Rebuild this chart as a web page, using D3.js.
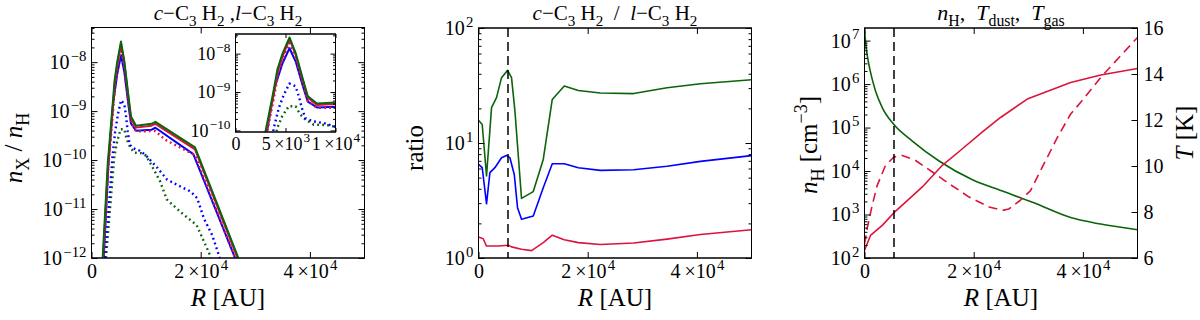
<!DOCTYPE html>
<html><head><meta charset="utf-8">
<script src="https://cdn.jsdelivr.net/npm/d3@7"></script>
<style>
body{margin:0;background:#fff}
svg{display:block}
text{font-family:"Liberation Serif","DejaVu Serif",serif;fill:#000}
</style>
</head><body><svg id="c" width="1200" height="320"></svg>
<script>
// ---------------- DATA ----------------
// Panel 1: fractional abundances n_X/n_H vs R [AU]
const p1GreenSolidR = [1900, 2990, 3790, 4200, 4700, 5400, 6010, 6740, 7230, 8150, 11000, 11700, 18960, 26900, 28000];
const p1GreenSolid  = [5.0e-13, 9.1e-11, 1.02e-9, 3.98e-9, 1.0e-8, 2.63e-8, 1.05e-8, 2.14e-9, 7.76e-10, 5.01e-10, 5.50e-10, 6.03e-10, 1.82e-10, 1.0e-12, 3.16e-13];
const p1RedSolidR   = [1950, 3040, 3840, 4250, 4750, 5400, 6010, 6740, 7230, 8150, 11000, 11700, 18960, 26900, 28000];
const p1RedSolid    = [4.5e-13, 8.0e-11, 9.0e-10, 3.6e-9, 9.0e-9, 2.4e-8, 9.6e-9, 1.95e-9, 7.1e-10, 4.6e-10, 5.05e-10, 5.5e-10, 1.66e-10, 9.0e-13, 2.9e-13];
const p1RedDotR     = [1950, 3040, 3840, 4250, 4750, 5400, 6010, 6740, 7230, 8150, 11000, 11700, 13500, 18960, 26900, 28000];
const p1RedDot      = [3.5e-13, 6.3e-11, 7.1e-10, 2.83e-9, 7.1e-9, 1.88e-8, 7.7e-9, 1.6e-9, 5.9e-10, 3.87e-10, 3.9e-10, 3.93e-10, 2.6e-10, 1.26e-10, 6.7e-13, 2.1e-13];
const p1BlueSolidR  = [2100, 3100, 3900, 4700, 5400, 6010, 6740, 7230, 8150, 11000, 11700, 18650, 26300, 27500];
const p1BlueSolid   = [5.0e-13, 7.9e-11, 1.26e-9, 5.6e-9, 1.38e-8, 6.3e-9, 1.41e-9, 5.6e-10, 3.98e-10, 4.17e-10, 4.57e-10, 1.32e-10, 1.0e-12, 3.16e-13];
const p1BlueDotR    = [2350, 3830, 4330, 4830, 5400, 6000, 6330, 6640, 6970, 7670, 8830, 9830, 12000, 13860, 16300, 18130, 19360, 20570, 22100, 23320, 24200];
const p1BlueDot     = [6.3e-13, 1.15e-10, 3.8e-10, 8.5e-10, 1.66e-9, 1.41e-9, 7.76e-10, 3.8e-10, 2.09e-10, 1.74e-10, 1.55e-10, 1.29e-10, 7.08e-11, 3.98e-11, 2.88e-11, 2.29e-11, 1.66e-11, 6.46e-12, 2.95e-12, 1.15e-12, 5.0e-13];
const p1GreenDotR   = [2500, 4170, 4670, 5330, 6000, 6500, 7000, 7830, 9170, 10000, 10710, 12550, 13770, 16210, 19260, 21700, 22600];
const p1GreenDot    = [6.3e-13, 1.15e-10, 2.34e-10, 4.27e-10, 4.27e-10, 2.57e-10, 1.91e-10, 1.41e-10, 1.38e-10, 1.23e-10, 8.9e-11, 3.72e-11, 1.58e-11, 8.9e-12, 4.68e-12, 1.15e-12, 5.0e-13];

// Panel 2: ratio c-C3H2 / l-C3H2
const p2GreenR = [0, 680, 1470, 2390, 3300, 4220, 5320, 6050, 6670, 7880, 10030, 11860, 13510, 15710, 18280, 22310, 28420, 34540, 40650, 50000];
const p2Green  = [15.8, 14.5, 5.16, 20.3, 24.8, 37.0, 42.8, 37.0, 19.0, 3.30, 3.78, 7.19, 23.9, 31.3, 28.6, 27.2, 26.9, 30.2, 32.8, 35.5];
const p2BlueR  = [0, 680, 1470, 2090, 3000, 4220, 5130, 5750, 6550, 7150, 7880, 10030, 11860, 13510, 15710, 18280, 22310, 28420, 34540, 40650, 50000];
const p2Blue   = [6.52, 6.10, 2.96, 5.52, 6.10, 7.45, 7.80, 7.45, 5.33, 2.74, 2.17, 2.32, 4.08, 6.61, 6.61, 6.10, 5.78, 5.86, 6.27, 6.92, 7.76];
const p2RedR   = [0, 860, 1470, 3610, 5440, 6050, 7880, 9720, 11860, 13510, 15710, 18280, 22310, 28420, 34540, 40650, 50000];
const p2Red    = [1.52, 1.47, 1.27, 1.27, 1.29, 1.25, 1.19, 1.16, 1.36, 1.58, 1.44, 1.36, 1.31, 1.35, 1.46, 1.60, 1.76];

// Panel 3: density and temperatures
const p3nHR = [0, 300, 800, 1400, 2020, 3250, 5390, 8760, 13660, 19770, 25280, 31020, 37760, 43260, 50000];
const p3nH  = [1.78e7, 7.08e6, 2.82e6, 1.32e6, 6.92e5, 2.88e5, 1.17e5, 4.9e4, 1.7e4, 6.3e3, 3.47e3, 1.86e3, 851, 603, 447];
const p3TdustR = [0, 1100, 3250, 5390, 7530, 10590, 14260, 17930, 21600, 24910, 29810, 37760, 43260, 50000];
const p3Tdust  = [6.33, 6.98, 7.42, 7.97, 8.43, 9.09, 10.03, 10.75, 11.48, 12.11, 12.91, 13.63, 13.96, 14.24];
const p3TgasR = [0, 500, 1410, 2330, 3850, 5390, 6920, 9360, 12430, 15490, 19160, 22830, 25280, 26430, 28500, 30410, 32860, 35320, 37760, 39600, 43260, 46930, 50000];
const p3Tgas  = [6.6, 7.3, 8.29, 9.16, 10.03, 10.39, 10.46, 10.24, 9.74, 9.23, 8.65, 8.22, 8.07, 8.13, 8.5, 8.93, 10.09, 11.24, 12.26, 12.77, 13.85, 14.8, 15.59];

const markerR = 5400; // vertical dashed line

// Ticks
const xTickVals = [0, 2e4, 4e4];
const xTickLabels = [["0"], ["2\u2009×10", "4"], ["4\u2009×10", "4"]];
const insetXTickVals = [0, 5e3, 1e4];
const insetXTickLabels = [["0"], ["5\u2009×10", "3"], ["1\u2009×10", "4"]];
const p1YTickVals = [1e-12, 1e-11, 1e-10, 1e-9, 1e-8];
const p1YTickLabels = [["10", "−12"], ["10", "−11"], ["10", "−10"], ["10", "−9"], ["10", "−8"]];
const insetYTickVals = [1e-10, 1e-9, 1e-8];
const insetYTickLabels = [["10", "−10"], ["10", "−9"], ["10", "−8"]];
const p2YTickVals = [1, 10, 100];
const p2YTickLabels = [["10", "0"], ["10", "1"], ["10", "2"]];
const p3YTickVals = [1e2, 1e3, 1e4, 1e5, 1e6, 1e7];
const p3YTickLabels = [["10", "2"], ["10", "3"], ["10", "4"], ["10", "5"], ["10", "6"], ["10", "7"]];
const p3TTickVals = [6, 8, 10, 12, 14, 16];
const p3TTickLabels = [["6"], ["8"], ["10"], ["12"], ["14"], ["16"]];

// ---------------- DRAWING ----------------
const RED = "#dc143c", BLUE = "#0000ff", GREEN = "#0b640b";
const svg = d3.select("#c");
const defs = svg.append("defs");

const P1 = {x0: 91.5, x1: 364.5, y0: 27.5, y1: 258};
const IN = {x0: 235.5, x1: 335.5, y0: 34, y1: 132};
const P2 = {x0: 478.5, x1: 751.5, y0: 28, y1: 258};
const P3 = {x0: 864.5, x1: 1137.5, y0: 28, y1: 258};

function rich(sel, parts, fs, supScale) {
  sel.text(null);
  const ss = supScale || 0.72;
  let cur = 0;
  parts.forEach(([s, st]) => {
    st = st || "";
    let off = 0, sz = fs;
    if (st.includes("sub")) { off = 0.28 * fs; sz = 0.72 * fs; }
    else if (st.includes("sup")) { off = -0.42 * fs; sz = ss * fs; }
    const t = sel.append("tspan").attr("font-size", sz).text(s);
    const d = off - cur;
    if (d !== 0) t.attr("dy", d);
    if (st.startsWith("it")) t.attr("font-style", "italic");
    cur = off;
  });
}
function tickParts(l) { return l.length > 1 ? [[l[0], ""], ["\u200A" + l[1], "sup"]] : [[l[0], ""]]; }

function logMinors(domain) {
  const out = [];
  const lo = Math.floor(Math.log10(domain[0])), hi = Math.ceil(Math.log10(domain[1]));
  for (let k = lo; k <= hi; k++) for (let m = 2; m <= 9; m++) {
    const v = m * Math.pow(10, k);
    if (v >= domain[0] && v <= domain[1]) out.push(v);
  }
  return out;
}

function clip(id, P) {
  defs.append("clipPath").attr("id", id).append("rect")
    .attr("x", P.x0).attr("y", P.y0).attr("width", P.x1 - P.x0).attr("height", P.y1 - P.y0);
}

function axis(gen, tr, vals, labels, fs, size, pad) {
  const g = svg.append("g").attr("transform", tr).attr("color", "#000")
    .call(gen.tickValues(vals).tickSize(size).tickPadding(pad).tickFormat(labels ? (d, i) => i : () => ""));
  g.select(".domain").remove();
  g.attr("font-family", null).attr("font-size", fs);
  if (labels) g.selectAll(".tick text").style("white-space", "pre")
    .each(function (d, i) { rich(d3.select(this), tickParts(labels[i]), fs, 0.74); });
  g.selectAll(".tick line").attr("stroke-width", 1);
  return g;
}

function frame(P, fill) {
  svg.append("rect").attr("x", P.x0).attr("y", P.y0).attr("width", P.x1 - P.x0).attr("height", P.y1 - P.y0)
    .attr("fill", fill || "none").attr("stroke", "#000").attr("stroke-width", 1);
}

function line(clipId, xs, ys, R, V, color, w, dash, curve) {
  svg.append("path").attr("clip-path", `url(#${clipId})`)
    .datum(d3.zip(R, V))
    .attr("d", d3.line().x(d => xs(d[0])).y(d => ys(d[1])).curve(curve || d3.curveLinear))
    .attr("fill", "none").attr("stroke", color).attr("stroke-width", w)
    .attr("stroke-dasharray", dash || null).attr("stroke-linejoin", "round");
}

function vline(clipId, xs, P, v) {
  svg.append("line").attr("clip-path", `url(#${clipId})`)
    .attr("x1", xs(v)).attr("x2", xs(v)).attr("y1", P.y0).attr("y2", P.y1)
    .attr("stroke", "#000").attr("stroke-width", 1.5).attr("stroke-dasharray", "9,5");
}

function label(x, y, parts, fs, rot, anchor) {
  const t = svg.append("text").attr("x", x).attr("y", y).attr("font-size", fs)
    .attr("text-anchor", anchor || "middle").style("white-space", "pre");
  if (rot) t.attr("transform", `rotate(-90,${x},${y})`);
  rich(t, parts, fs);
  return t;
}

const TFS = 20;      // tick font size
const HFS = 21;      // title font size
const MAJ = -6, MIN = -3;
const sp = "\u2005";

// ---------- Panel 1 ----------
clip("c1", P1);
const x1 = d3.scaleLinear([0, 5e4], [P1.x0, P1.x1]);
const y1 = d3.scaleLog([1e-12, 5.1e-8], [P1.y1, P1.y0]);
frame(P1, "#fff");
const dotted = "1.8,3.2";
function p1Lines(cid, xs, ys, w) {
  line(cid, xs, ys, p1GreenDotR, p1GreenDot, GREEN, w + 0.4, dotted);
  line(cid, xs, ys, p1BlueDotR, p1BlueDot, BLUE, w + 0.4, dotted);
  line(cid, xs, ys, p1BlueSolidR, p1BlueSolid, BLUE, w);
  line(cid, xs, ys, p1RedDotR, p1RedDot, RED, w + 0.4, dotted);
  line(cid, xs, ys, p1RedSolidR, p1RedSolid, RED, w);
  line(cid, xs, ys, p1GreenSolidR, p1GreenSolid, GREEN, w);
}
p1Lines("c1", x1, y1, 2);
axis(d3.axisBottom(x1), `translate(0,${P1.y1})`, xTickVals, xTickLabels, TFS, MAJ, 6);
axis(d3.axisTop(x1), `translate(0,${P1.y0})`, xTickVals, null, TFS, MAJ, 3);
axis(d3.axisLeft(y1), `translate(${P1.x0},0)`, p1YTickVals, p1YTickLabels, TFS, MAJ, 5);
axis(d3.axisLeft(y1), `translate(${P1.x0},0)`, logMinors(y1.domain()), null, TFS, MIN, 3);
axis(d3.axisRight(y1), `translate(${P1.x1},0)`, p1YTickVals, null, TFS, MAJ, 3);
axis(d3.axisRight(y1), `translate(${P1.x1},0)`, logMinors(y1.domain()), null, TFS, MIN, 3);
frame(P1);

// inset
clip("ci", IN);
const xi = d3.scaleLinear([0, 1e4], [IN.x0, IN.x1]);
const yi = d3.scaleLog([9.1e-11, 3.24e-8], [IN.y1, IN.y0]);
frame(IN, "#fff");
p1Lines("ci", xi, yi, 2);
axis(d3.axisBottom(xi), `translate(0,${IN.y1})`, insetXTickVals, insetXTickLabels, 18, -4, 5);
axis(d3.axisTop(xi), `translate(0,${IN.y0})`, insetXTickVals, null, 16, -4, 3);
axis(d3.axisLeft(yi), `translate(${IN.x0},0)`, insetYTickVals, insetYTickLabels, 18, -5, 5);
axis(d3.axisLeft(yi), `translate(${IN.x0},0)`, logMinors(yi.domain()), null, 16, -2.5, 3);
axis(d3.axisRight(yi), `translate(${IN.x1},0)`, insetYTickVals, null, 16, -5, 3);
axis(d3.axisRight(yi), `translate(${IN.x1},0)`, logMinors(yi.domain()), null, 16, -2.5, 3);
frame(IN);

label((P1.x0 + P1.x1) / 2, 20, [["c", "it"], ["−C", ""], ["3", "sub"], [sp + "H", ""], ["2", "sub"], [sp + ",", ""], ["l", "it"], ["−C", ""], ["3", "sub"], [sp + "H", ""], ["2", "sub"]], HFS);
label((P1.x0 + P1.x1) / 2, 306, [["R", "it"], [" [AU]", ""]], 25);
label(22, 148, [["n", "it"], ["X", "sub"], [" / ", ""], ["n", "it"], ["H", "sub"]], 25, true);

// ---------- Panel 2 ----------
clip("c2", P2);
const x2 = d3.scaleLinear([0, 5e4], [P2.x0, P2.x1]);
const y2 = d3.scaleLog([1, 100], [P2.y1, P2.y0]);
frame(P2, "#fff");
line("c2", x2, y2, p2RedR, p2Red, RED, 1.6);
line("c2", x2, y2, p2BlueR, p2Blue, BLUE, 1.6);
line("c2", x2, y2, p2GreenR, p2Green, GREEN, 1.6);
vline("c2", x2, P2, markerR);
axis(d3.axisBottom(x2), `translate(0,${P2.y1})`, xTickVals, xTickLabels, TFS, MAJ, 6);
axis(d3.axisTop(x2), `translate(0,${P2.y0})`, xTickVals, null, TFS, MAJ, 3);
axis(d3.axisLeft(y2), `translate(${P2.x0},0)`, p2YTickVals, p2YTickLabels, TFS, MAJ, 5);
axis(d3.axisLeft(y2), `translate(${P2.x0},0)`, logMinors(y2.domain()), null, TFS, MIN, 3);
axis(d3.axisRight(y2), `translate(${P2.x1},0)`, p2YTickVals, null, TFS, MAJ, 3);
axis(d3.axisRight(y2), `translate(${P2.x1},0)`, logMinors(y2.domain()), null, TFS, MIN, 3);
frame(P2);
label((P2.x0 + P2.x1) / 2, 20, [["c", "it"], ["−C", ""], ["3", "sub"], [sp + "H", ""], ["2", "sub"], ["\u2002/\u2002", ""], ["l", "it"], ["−C", ""], ["3", "sub"], [sp + "H", ""], ["2", "sub"]], HFS);
label((P2.x0 + P2.x1) / 2, 306, [["R", "it"], [" [AU]", ""]], 25);
label(423, 148, [["ratio", ""]], 25, true);

// ---------- Panel 3 ----------
clip("c3", P3);
const x3 = d3.scaleLinear([0, 5e4], [P3.x0, P3.x1]);
const y3 = d3.scaleLog([1e2, 1.95e7], [P3.y1, P3.y0]);
const t3 = d3.scaleLinear([6, 16], [P3.y1, P3.y0]);
frame(P3, "#fff");
line("c3", x3, y3, p3nHR, p3nH, GREEN, 1.6, null, d3.curveMonotoneX);
line("c3", x3, t3, p3TdustR, p3Tdust, RED, 1.6);
line("c3", x3, t3, p3TgasR, p3Tgas, RED, 1.6, "9,5.5");
vline("c3", x3, P3, markerR);
axis(d3.axisBottom(x3), `translate(0,${P3.y1})`, xTickVals, xTickLabels, TFS, MAJ, 6);
axis(d3.axisTop(x3), `translate(0,${P3.y0})`, xTickVals, null, TFS, MAJ, 3);
axis(d3.axisLeft(y3), `translate(${P3.x0},0)`, p3YTickVals, p3YTickLabels, TFS, MAJ, 5);
axis(d3.axisLeft(y3), `translate(${P3.x0},0)`, logMinors(y3.domain()), null, TFS, MIN, 3);
axis(d3.axisRight(t3), `translate(${P3.x1},0)`, p3TTickVals, p3TTickLabels, TFS, MAJ, 6);
frame(P3);
label((P3.x0 + P3.x1) / 2, 20, [["n", "it"], ["H", "sub"], [",\u2002", ""], ["T", "it"], ["dust", "sub"], [",\u2002", ""], ["T", "it"], ["gas", "sub"]], 22);
label((P3.x0 + P3.x1) / 2, 306, [["R", "it"], [" [AU]", ""]], 25);
label(817, 145, [["n", "it"], ["H", "sub"], [" [cm", ""], ["−3", "sup"], ["]", ""]], 25, true);
label(1193, 133, [["T", "it"], [" [K]", ""]], 25, true);
</script>
</body></html>
